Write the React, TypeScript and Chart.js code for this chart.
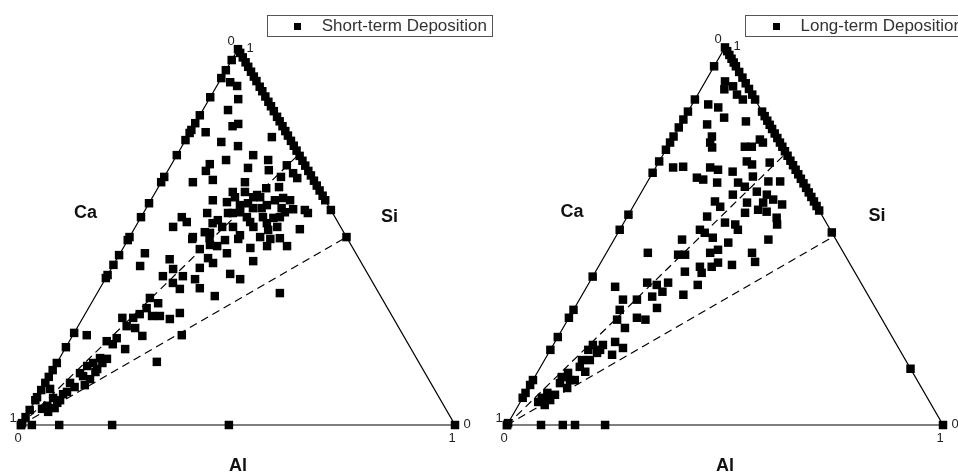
import { useEffect, useRef } from 'react';
import { Chart, registerables } from 'chart.js';

Chart.register(...registerables);

const FONT = '"Liberation Sans", Arial, Helvetica, sans-serif';
const H = Math.sqrt(3) / 2;

// corner names (Ca bottom-left, Si top, Al bottom-right) and axis end ticks
const axisNames = ['Ca', 'Si', 'Al'];
const tickLabels = ['0', '1'];

// triangle outline, as (Si, Al) fractions
const frameSi = [0, 0, 1, 0];
const frameAl = [0, 1, 0, 0];
// dashed reference lines: Ca corner -> these points on the Si-Al side
const refSi = [0.5, 0.72];
const refAl = [0.5, 0.28];

// ---- Short-term deposition ----
const shortLabel = 'Short-term Deposition';
// Si on the Ca-Si side (Al = 0)
const shortCaSiSide = [0.971, 0.944, 0.923, 0.872, 0.824, 0.803, 0.785, 0.777, 0.758, 0.718, 0.66, 0.646, 0.59, 0.553, 0.5, 0.492, 0.452, 0.426, 0.399, 0.391, 0.245, 0.207, 0.165, 0.146, 0.128, 0.112, 0.093, 0.074, 0.066, 0.04, 0.021, 0.005, 0];
// Si on the Si-Al side (Ca = 0)
const shortSiAlSide = [1, 0.99, 0.978, 0.965, 0.953, 0.94, 0.927, 0.915, 0.9, 0.888, 0.874, 0.86, 0.848, 0.835, 0.82, 0.808, 0.795, 0.782, 0.77, 0.756, 0.743, 0.73, 0.716, 0.703, 0.69, 0.676, 0.664, 0.65, 0.637, 0.624, 0.61, 0.598, 0.572, 0.5];
// Al on the Ca-Al side (Si = 0)
const shortCaAlSide = [0, 0.025, 0.088, 0.21, 0.479, 1];
// inner samples [Si, Al]
const shortInner: number[][] = [
  [0.912, 0.026], [0.902, 0.047], [0.867, 0.067], [0.838, 0.058], [0.795, 0.09], [0.801, 0.1], [0.779, 0.036], [0.766, 0.195],
  [0.753, 0.085], [0.742, 0.129], [0.718, 0.176], [0.705, 0.217], [0.705, 0.12], [0.694, 0.088], [0.684, 0.181], [0.691, 0.267],
  [0.678, 0.232], [0.676, 0.088], [0.66, 0.269], [0.646, 0.073], [0.652, 0.116], [0.646, 0.193], [0.67, 0.292], [0.657, 0.308],
  [0.63, 0.25], [0.633, 0.278], [0.62, 0.178], [0.606, 0.232], [0.606, 0.248], [0.598, 0.143], [0.604, 0.302], [0.598, 0.321],
  [0.593, 0.178], [0.59, 0.228], [0.585, 0.274], [0.577, 0.246], [0.577, 0.312], [0.574, 0.34], [0.572, 0.368], [0.564, 0.379],
  [0.564, 0.147], [0.564, 0.206], [0.566, 0.222], [0.553, 0.244], [0.553, 0.281], [0.551, 0.306], [0.553, 0.32], [0.553, 0.094],
  [0.527, 0.087], [0.54, 0.112], [0.537, 0.173], [0.527, 0.2], [0.527, 0.225], [0.527, 0.272], [0.537, 0.298], [0.527, 0.327],
  [0.521, 0.382], [0.511, 0.18], [0.5, 0.146], [0.505, 0.252], [0.5, 0.301], [0.495, 0.147], [0.497, 0.186], [0.476, 0.214],
  [0.468, 0.178], [0.457, 0.246], [0.495, 0.253], [0.471, 0.293], [0.476, 0.329], [0.495, 0.327], [0.476, 0.375], [0.444, 0.209],
  [0.418, 0.203], [0.431, 0.227], [0.436, 0.317], [0.457, 0.057], [0.423, 0.063], [0.441, 0.122], [0.415, 0.143], [0.396, 0.129],
  [0.396, 0.175], [0.378, 0.161], [0.402, 0.281], [0.388, 0.311], [0.388, 0.207], [0.364, 0.23], [0.362, 0.185], [0.343, 0.275],
  [0.351, 0.421], [0.338, 0.128], [0.324, 0.154], [0.311, 0.134], [0.29, 0.157], [0.295, 0.126], [0.29, 0.175], [0.282, 0.202],
  [0.298, 0.217], [0.285, 0.091], [0.285, 0.116], [0.263, 0.112], [0.258, 0.134], [0.237, 0.161], [0.239, 0.251], [0.239, 0.032],
  [0.223, 0.086], [0.231, 0.105], [0.215, 0.104], [0.202, 0.139], [0.168, 0.229], [0.178, 0.093], [0.165, 0.084], [0.176, 0.11],
  [0.157, 0.074], [0.138, 0.067], [0.149, 0.101], [0.122, 0.098], [0.112, 0.057], [0.082, 0.056], [0.072, 0.038], [0.059, 0.054],
  [0.051, 0.035], [0.043, 0.027], [0.096, 0.019],
  [0.606, 0.19], [0.62, 0.206], [0.612, 0.238], [0.585, 0.212], [0.577, 0.266], [0.598, 0.286], [0.566, 0.325], [0.564, 0.195],
  [0.545, 0.181], [0.54, 0.258], [0.519, 0.31], [0.497, 0.348], [0.479, 0.196], [0.492, 0.224], [0.513, 0.167],
  [0.066, 0.057], [0.088, 0.062], [0.101, 0.073], [0.13, 0.078], [0.141, 0.101], [0.165, 0.105], [0.035, 0.045], [0.045, 0.055],
  [0.106, 0.094],
];

// ---- Long-term deposition ----
const longLabel = 'Long-term Deposition';
const longCaSiSide = [0.95, 0.862, 0.83, 0.809, 0.788, 0.764, 0.748, 0.729, 0.698, 0.668, 0.557, 0.517, 0.393, 0.305, 0.284, 0.233, 0.199, 0.119, 0.106, 0.085, 0.072, 0.005, 0];
const longSiAlSide = [1, 0.99, 0.98, 0.97, 0.96, 0.95, 0.935, 0.92, 0.905, 0.89, 0.875, 0.862, 0.83, 0.818, 0.806, 0.795, 0.784, 0.772, 0.76, 0.748, 0.737, 0.725, 0.713, 0.7, 0.688, 0.676, 0.664, 0.652, 0.64, 0.628, 0.616, 0.604, 0.592, 0.58, 0.568, 0.51, 0.149];
const longCaAlSide = [0, 0.078, 0.128, 0.156, 0.225, 1];
const longInner: number[][] = [
  [0.91, 0.045], [0.897, 0.07], [0.889, 0.054], [0.875, 0.09], [0.862, 0.11], [0.849, 0.037], [0.841, 0.064], [0.814, 0.091],
  [0.804, 0.146], [0.796, 0.061], [0.764, 0.088], [0.748, 0.092], [0.735, 0.103], [0.737, 0.177], [0.737, 0.193], [0.756, 0.202],
  [0.748, 0.213], [0.682, 0.04], [0.684, 0.062], [0.682, 0.125], [0.676, 0.146], [0.671, 0.182], [0.698, 0.201], [0.69, 0.217],
  [0.695, 0.255], [0.655, 0.108], [0.65, 0.125], [0.642, 0.161], [0.642, 0.209], [0.631, 0.23], [0.658, 0.235], [0.645, 0.277],
  [0.645, 0.304], [0.61, 0.213], [0.618, 0.264], [0.61, 0.291], [0.592, 0.181], [0.578, 0.2], [0.589, 0.256], [0.589, 0.293],
  [0.597, 0.312], [0.584, 0.339], [0.552, 0.183], [0.562, 0.265], [0.57, 0.291], [0.565, 0.313], [0.549, 0.344], [0.536, 0.232],
  [0.531, 0.258], [0.517, 0.271], [0.531, 0.354], [0.517, 0.184], [0.509, 0.199], [0.496, 0.224], [0.483, 0.266], [0.491, 0.156],
  [0.451, 0.183], [0.451, 0.167], [0.456, 0.095], [0.456, 0.238], [0.464, 0.252], [0.43, 0.269], [0.419, 0.26], [0.424, 0.304],
  [0.456, 0.334], [0.432, 0.353], [0.491, 0.354], [0.406, 0.205], [0.419, 0.233], [0.403, 0.245], [0.371, 0.252], [0.345, 0.232],
  [0.366, 0.065], [0.377, 0.133], [0.371, 0.158], [0.377, 0.181], [0.353, 0.18], [0.34, 0.163], [0.332, 0.132], [0.332, 0.1],
  [0.305, 0.106], [0.31, 0.189], [0.279, 0.113], [0.257, 0.142], [0.284, 0.156], [0.279, 0.178], [0.22, 0.138], [0.204, 0.164],
  [0.186, 0.148], [0.212, 0.114], [0.212, 0.091], [0.199, 0.087], [0.191, 0.111], [0.172, 0.086], [0.154, 0.09], [0.138, 0.071],
  [0.127, 0.062], [0.111, 0.066], [0.119, 0.096], [0.098, 0.089], [0.085, 0.05], [0.072, 0.044], [0.066, 0.066], [0.061, 0.041],
  [0.053, 0.06], [0.08, 0.07], [0.119, 0.085], [0.172, 0.104], [0.199, 0.114], [0.141, 0.109],
];

const toPoint = (si: number, al: number) => ({ x: al + si / 2, y: si * H });

const collect = (caSi: number[], siAl: number[], caAl: number[], inner: number[][]) => [
  ...caSi.map((s) => toPoint(s, 0)),
  ...siAl.map((s) => toPoint(s, 1 - s)),
  ...caAl.map((a) => toPoint(0, a)),
  ...inner.map(([s, a]) => toPoint(s, a)),
];

type Props = {
  label: string;
  points: { x: number; y: number }[];
  left: number;
  width: number;
  caX: number; // pixel of the Ca corner inside the canvas
  alX: number; // pixel of the Al corner
  baseY: number; // pixel of the Ca-Al side
};

const ternaryText = {
  id: 'ternaryText',
  afterDraw(chart: any) {
    const { ctx } = chart;
    const xs = chart.scales.x;
    const ys = chart.scales.y;
    const P = (si: number, al: number) => {
      const p = toPoint(si, al);
      return { x: xs.getPixelForValue(p.x), y: ys.getPixelForValue(p.y) };
    };
    const ca = P(0, 0);
    const al = P(0, 1);
    const si = P(1, 0);
    ctx.save();
    ctx.fillStyle = '#222';
    ctx.textAlign = 'center';
    ctx.textBaseline = 'middle';
    ctx.font = `13px ${FONT}`;
    // Ca axis: 0 at Si corner, 1 at Ca corner
    ctx.fillText(tickLabels[0], si.x - 7, si.y - 8);
    ctx.fillText(tickLabels[1], ca.x - 8, ca.y - 7);
    // Si axis: 1 at Si corner, 0 at Al corner
    ctx.fillText(tickLabels[1], si.x + 12, si.y - 1);
    ctx.fillText(tickLabels[0], al.x + 12, al.y - 1);
    // Al axis: 0 at Ca corner, 1 at Al corner
    ctx.fillText(tickLabels[0], ca.x - 3, ca.y + 13);
    ctx.fillText(tickLabels[1], al.x - 3, al.y + 13);

    ctx.fillStyle = '#111';
    ctx.font = `bold 18px ${FONT}`;
    ctx.fillText(axisNames[0], (ca.x + si.x) / 2 - 44, (ca.y + si.y) / 2 - 24);
    ctx.fillText(axisNames[1], (al.x + si.x) / 2 + 43, (al.y + si.y) / 2 - 20);
    ctx.fillText(axisNames[2], (ca.x + al.x) / 2, ca.y + 41);
    ctx.restore();
  },
};

const legendFrame = {
  id: 'legendFrame',
  afterDraw(chart: any) {
    const hb = chart.legend?.legendHitBoxes?.[0];
    if (!hb) return;
    const { ctx } = chart;
    ctx.save();
    ctx.strokeStyle = '#555';
    ctx.lineWidth = 1;
    ctx.strokeRect(Math.round(hb.left - 15.5) + 0.5, Math.round(hb.top - 3) + 0.5, Math.round(hb.width + 20), Math.round(hb.height + 4));
    ctx.restore();
  },
};

const Ternary = ({ label, points, left, width, caX, alX, baseY }: Props) => {
  const chartRef = useRef<HTMLCanvasElement | null>(null);

  useEffect(() => {
    if (!chartRef.current) return;

    const square = document.createElement('canvas');
    square.width = 7;
    square.height = 7;
    const g = square.getContext('2d');
    if (g) {
      g.fillStyle = '#000';
      g.fillRect(0, 0, 7, 7);
    }

    const line = (data: { x: number; y: number }[], dash: number[]) => ({
      label: '',
      data,
      showLine: true,
      borderColor: '#000',
      borderWidth: 1.2,
      borderDash: dash,
      pointRadius: 0,
      pointHoverRadius: 0,
      fill: false,
      clip: false as const,
    });

    const chart = new Chart(chartRef.current, {
      type: 'scatter',
      data: {
        datasets: [
          {
            label,
            data: points,
            pointStyle: 'rect',
            pointRadius: 6,
            pointBorderWidth: 0,
            backgroundColor: '#000',
            borderColor: '#000',
            clip: false as const,
          },
          line(frameSi.map((s, i) => toPoint(s, frameAl[i])), []),
          ...refSi.map((s, i) => line([toPoint(0, 0), toPoint(s, refAl[i])], [8, 5])),
        ] as any,
      },
      options: {
        responsive: true,
        maintainAspectRatio: false,
        animation: false,
        layout: { padding: { top: 8, left: 0, right: 0, bottom: 0 } },
        scales: {
          x: { type: 'linear', display: false, min: 0, max: 1 },
          y: { type: 'linear', display: false, min: 0, max: 1 },
        },
        plugins: {
          tooltip: { enabled: false },
          legend: {
            position: 'top',
            align: 'end',
            labels: {
              usePointStyle: true,
              pointStyle: square as any,
              pointStyleWidth: 31,
              boxHeight: 7,
              padding: 10,
              color: '#333',
              font: { family: FONT, size: 17 },
              filter: (item: any) => item.datasetIndex === 0,
            },
          },
        },
      },
      plugins: [ternaryText, legendFrame],
    });

    // fit the value ranges so the triangle sits where it should, equal scale on both axes
    const area = chart.chartArea;
    const k = alX - caX;
    const sc: any = (chart.config.options as any).scales;
    sc.x.min = (area.left - caX) / k;
    sc.x.max = (area.right - caX) / k;
    sc.y.min = (baseY - area.bottom) / k;
    sc.y.max = (baseY - area.top) / k;
    chart.update();

    return () => {
      chart.destroy();
    };
  }, [label, points, caX, alX, baseY]);

  return (
    <div style={{ position: 'absolute', left, top: 0, width, height: 476 }}>
      <canvas ref={chartRef}></canvas>
    </div>
  );
};

const shortPoints = collect(shortCaSiSide, shortSiAlSide, shortCaAlSide, shortInner);
const longPoints = collect(longCaSiSide, longSiAlSide, longCaAlSide, longInner);

export default function App() {
  return (
    <div style={{ position: 'absolute', left: 0, top: 0, width: 958, height: 476, overflow: 'hidden', background: '#fff' }}>
      <Ternary label={shortLabel} points={shortPoints} left={0} width={497} caX={21} alX={455} baseY={425} />
      <Ternary label={longLabel} points={longPoints} left={479} width={494} caX={28} alX={464} baseY={425} />
    </div>
  );
}
